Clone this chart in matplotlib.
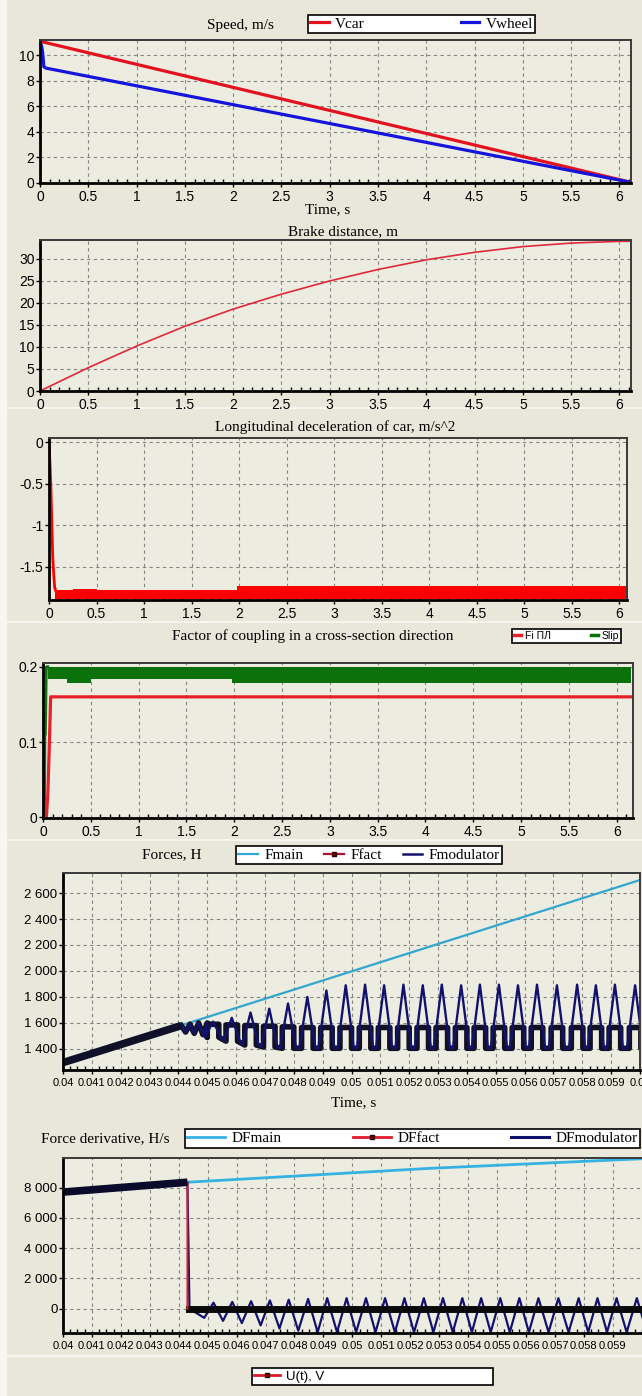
import matplotlib
matplotlib.use('Agg')
import matplotlib.pyplot as plt
from matplotlib.lines import Line2D
from matplotlib.patches import Rectangle
from matplotlib.ticker import FixedLocator, FuncFormatter

plt.rcParams['font.family'] = ['Liberation Sans', 'DejaVu Sans']

# ---- data ----
# speed, m/s
car_t = [0.0, 6.12]
car_v = [11.1, 0.05]
wheel_t = [0.0, 0.02, 0.03, 0.04, 0.06, 6.12]
wheel_v = [11.1, 10.6, 10.0, 9.1, 9.0, 0.05]

# brake distance, m
dist_t = [0, 0.5, 1, 1.5, 2, 2.5, 3, 3.5, 4, 4.5, 5, 5.5, 6, 6.12]
dist_v = [0, 5.3, 10.2, 14.7, 18.6, 22.0, 25.0, 27.6, 29.8, 31.5, 32.8, 33.6, 34.0, 34.0]

# longitudinal deceleration, m/s^2
dec_t = [0, 0.01, 0.02, 0.03, 0.04, 0.05, 0.06, 0.08]
dec_v = [0, -0.25, -0.55, -1.0, -1.4, -1.6, -1.75, -1.82]
band_t = [0.06, 0.25, 0.5, 1.98, 6.12]
band_hi = [-1.78, -1.765, -1.78, -1.73, -1.73]
band_lo = [-1.885, -1.885, -1.885, -1.885, -1.885]

# coupling factor
slip_t = [0.05, 0.25, 0.5, 1.98, 6.15]
slip_lo = [0.184, 0.178, 0.184, 0.178, 0.178]
slip_hi = [0.2, 0.2, 0.2, 0.2, 0.2]
slip_rise_t = [0.015, 0.02, 0.025, 0.035, 0.05]
slip_rise_v = [0.0, 0.11, 0.11, 0.2, 0.2]
fi_t = [0, 0.035, 0.05, 0.065, 0.08, 6.15]
fi_v = [0, 0.0, 0.03, 0.09, 0.16, 0.16]

# forces, H (time window 0.04 .. 0.06 s)
fmain_t = [0.04, 0.044, 0.06]
fmain_v = [1295, 1575, 2700]
ramp_t = [0.04, 0.0441]
ramp_v = [1295, 1580]
jag_t = [0.0441, 0.04425, 0.0444, 0.04455, 0.0447, 0.04485, 0.045]
jag_v = [1580, 1530, 1590, 1520, 1600, 1510, 1600]
peak_t = [0.04520, 0.04585, 0.04650, 0.04715, 0.04780, 0.04847, 0.04913, 0.04980,
          0.05047, 0.05113, 0.05180, 0.05247, 0.05313, 0.05380, 0.05445, 0.05511,
          0.05577, 0.05643, 0.05712, 0.05782, 0.05847, 0.05913, 0.05983, 0.06050]
mod_peak_v = [1610, 1640, 1680, 1710, 1750, 1800, 1850, 1890, 1895, 1890, 1895, 1890,
              1895, 1890, 1895, 1895, 1890, 1895, 1890, 1895, 1890, 1895, 1890, 1890]
mod_trough_v = [1490, 1460, 1430, 1415, 1405, 1405, 1405, 1405, 1405, 1405, 1405, 1405,
                1405, 1405, 1405, 1405, 1405, 1405, 1405, 1405, 1405, 1405, 1405, 1405]
fact_high_v = [1590, 1585, 1580, 1575, 1570, 1565, 1565, 1565, 1565, 1565, 1565, 1565,
               1565, 1565, 1565, 1565, 1565, 1565, 1565, 1565, 1565, 1565, 1565, 1565]

# force derivative, H/s
df_start_t = [0.04, 0.0443]
df_start_v = [7700, 8350]
dfmain_t = [0.0443, 0.0527, 0.06, 0.0607]
dfmain_v = [8350, 9270, 9900, 9960]
valley_t = [0.04488, 0.04553, 0.04618, 0.04683, 0.04748, 0.04813, 0.04880, 0.04947,
            0.05013, 0.05080, 0.05147, 0.05213, 0.05280, 0.05347, 0.05413, 0.05478,
            0.05544, 0.05610, 0.05678, 0.05747, 0.05815, 0.05880, 0.05948, 0.06018]
dfm_peak_v = [400, 450, 500, 550, 600, 650, 700, 700, 700, 700, 700, 700,
              700, 700, 700, 700, 700, 700, 700, 700, 700, 700, 700, 700]
dfm_valley_v = [-600, -800, -950, -1100, -1300, -1450, -1550, -1550, -1550, -1550, -1550, -1550,
                -1550, -1550, -1550, -1550, -1550, -1550, -1550, -1550, -1550, -1550, -1550, -1550]

# ---- layout helpers ----
W, H = 642, 1396
BG = '#E9E7DA'
PLOT_BG = '#EDECE1'
SERIF = 'Liberation Serif'

fig = plt.figure(figsize=(W / 100, H / 100), dpi=100, facecolor=BG)


def px_axes(l, t, r, b):
    return fig.add_axes([l / W, 1 - b / H, (r - l) / W, (b - t) / H])


def fy(y):
    return 1 - y / H


def style(ax, xlim, ylim, xt, yt, xminor, xfmt, yfmt, xsize=10, ysize=10):
    ax.set_facecolor(PLOT_BG)
    ax.set_xlim(*xlim)
    ax.set_ylim(*ylim)
    ax.xaxis.set_major_locator(FixedLocator(xt))
    ax.yaxis.set_major_locator(FixedLocator(yt))
    ax.xaxis.set_minor_locator(FixedLocator(xminor))
    ax.xaxis.set_major_formatter(FuncFormatter(xfmt))
    ax.yaxis.set_major_formatter(FuncFormatter(yfmt))
    ax.grid(True, which='major', color='#858585', lw=0.8, ls=(0, (3, 3)))
    ax.tick_params(axis='x', which='major', direction='out', length=3, width=1,
                   labelsize=xsize, pad=2)
    ax.tick_params(axis='x', which='minor', direction='in', length=3, width=1)
    ax.tick_params(axis='y', direction='out', length=3, width=1, labelsize=ysize, pad=1)
    for s in ['left', 'bottom']:
        ax.spines[s].set_linewidth(2.0)
        ax.spines[s].set_color('black')
    for s in ['top', 'right']:
        ax.spines[s].set_linewidth(1.4)
        ax.spines[s].set_color('#3a3a3a')
    ax.set_axisbelow(True)


def box_legend(handles, labels, x0, y0, x1, y1, ncol, prop, hl=1.5):
    leg = fig.legend(handles, labels, loc='center',
                     bbox_to_anchor=(x0 / W, fy(y1), (x1 - x0) / W, (y1 - y0) / H),
                     mode='expand', ncol=ncol, frameon=True, fancybox=False,
                     borderpad=0.15, borderaxespad=0, handlelength=hl,
                     handletextpad=0.4, columnspacing=0.5, prop=prop)
    fr = leg.get_frame()
    fr.set_facecolor('white')
    fr.set_edgecolor('black')
    fr.set_linewidth(1.2)
    fr.set_alpha(1)
    return leg


gfmt = lambda v, p: '%g' % round(v, 4)
sfmt = lambda v, p: '{:,.0f}'.format(v).replace(',', ' ')
mfmt = lambda v, p: ('%.3f' % v).rstrip('0')

secs = [i * 0.5 for i in range(13)]
secs_minor = [i * 0.1 for i in range(62)]
ms = [i / 1000 for i in range(40, 61)]
ms_minor = [0.04 + i * 0.00025 for i in range(84)]

# light separators of the window
fig.patches.append(Rectangle((0, 0), 6 / W, 1, transform=fig.transFigure,
                             color='#F7F6F0', zorder=0))
for yy in [408, 622, 840, 1356]:
    fig.add_artist(Line2D([0, 1], [fy(yy), fy(yy)], color='#F7F6F0', lw=1.5, zorder=0))

# ---- 1. speed ----
ax1 = px_axes(40, 40, 631, 183)
style(ax1, (0, 6.12), (0, 11.2), secs, [0, 2, 4, 6, 8, 10], secs_minor, gfmt, gfmt)
l_car, = ax1.plot(car_t, car_v, color='#E3121E', lw=2.3, label='Vcar')
l_wheel, = ax1.plot(wheel_t, wheel_v, color='#1414DC', lw=2.3, label='Vwheel')
fig.text(240 / W, fy(25), 'Speed, m/s', family=SERIF, fontsize=11, ha='center', va='center')
fig.text(328 / W, fy(210), 'Time, s', family=SERIF, fontsize=11, ha='center', va='center')
box_legend([l_car, l_wheel], ['Vcar', 'Vwheel'], 308, 13, 535, 35, 2,
           {'family': SERIF, 'size': 11}, hl=1.2)

# ---- 2. brake distance ----
ax2 = px_axes(40, 240, 631, 391)
style(ax2, (0, 6.12), (0, 34.3), secs, [0, 5, 10, 15, 20, 25, 30], secs_minor, gfmt, gfmt)
ax2.plot(dist_t, dist_v, color='#E0283A', lw=1.2)
fig.text(343 / W, fy(232), 'Brake distance, m', family=SERIF, fontsize=11, ha='center', va='center')

# ---- 3. longitudinal deceleration ----
ax3 = px_axes(49, 438, 627, 600)
style(ax3, (0, 6.08), (-1.9, 0.05), secs, [0, -0.5, -1, -1.5], secs_minor, gfmt, gfmt)
ax3.plot(dec_t, dec_v, color='#FF0000', lw=2.0)
ax3.fill_between(band_t, band_lo, band_hi, step='post', color='#FF0000', lw=0)
fig.text(335 / W, fy(427), 'Longitudinal deceleration of car, m/s^2', family=SERIF,
         fontsize=11, ha='center', va='center')

# ---- 4. coupling factor ----
ax4 = px_axes(43, 663, 633, 818)
style(ax4, (0, 6.17), (-0.001, 0.205), secs, [0, 0.1, 0.2], secs_minor, gfmt, gfmt)
ax4.fill_between(slip_t, slip_lo, slip_hi, step='post', color='#0B720B', lw=0)
ax4.plot(slip_rise_t, slip_rise_v, color='#0B720B', lw=2.0)
ax4.plot(fi_t, fi_v, color='#E8202A', lw=2.3)
fig.text(313 / W, fy(636), 'Factor of coupling in a cross-section direction', family=SERIF,
         fontsize=11, ha='center', va='center')
box_legend([Line2D([], [], color='#E8202A', lw=2.5), Line2D([], [], color='#0B720B', lw=2.5)],
           ['Fi ПЛ', 'Slip'], 512, 627, 621, 645, 2, {'size': 7.5}, hl=0.7)

# ---- 5. forces ----
mod_t, mod_v = list(jag_t), list(jag_v)
fact_t, fact_v = list(jag_t), list(jag_v)
for p, pv, tv, hv in zip(peak_t, mod_peak_v, mod_trough_v, fact_high_v):
    mod_t += [p - 0.00028, p, p + 0.00028]
    mod_v += [tv, pv, tv]
    fact_t += [p - 0.0002, p - 0.0002, p + 0.0002, p + 0.0002]
    fact_v += [tv, hv, hv, tv]

ax5 = px_axes(63, 873, 640, 1070)
style(ax5, (0.04, 0.06), (1238, 2754), ms, [1400, 1600, 1800, 2000, 2200, 2400, 2600],
      ms_minor, mfmt, sfmt, xsize=8, ysize=9.5)
ax5.tick_params(axis='x', which='major', pad=3)
ax5.plot(fmain_t, fmain_v, color='#31A6CF', lw=1.6)
ax5.plot(fact_t, fact_v, color='#111122', lw=4.0)
ax5.plot(mod_t, mod_v, color='#12126E', lw=1.7)
ax5.plot(ramp_t, ramp_v, color='#101028', lw=5.5, solid_capstyle='butt')
fig.text(172 / W, fy(855), 'Forces, H', family=SERIF, fontsize=11, ha='center', va='center')
fig.text(354 / W, fy(1103), 'Time, s', family=SERIF, fontsize=11, ha='center', va='center')
h_main = Line2D([], [], color='#31A6CF', lw=1.6)
h_fact = Line2D([], [], color='#B01030', lw=1.6, marker='s', ms=3.5, mfc='#700010', mec='#300000')
h_mod = Line2D([], [], color='#12126E', lw=1.8)
box_legend([h_main, h_fact, h_mod], ['Fmain', 'Ffact', 'Fmodulator'], 236, 843, 502, 867, 3,
           {'family': SERIF, 'size': 11}, hl=1.3)

# ---- 6. force derivative ----
drop_t = df_start_t[-1] + 0.00007
dfm_t = list(df_start_t) + [drop_t]
dfm_v = list(df_start_v) + [0]
for vt, vv, p, pv in zip(valley_t, dfm_valley_v, peak_t, dfm_peak_v):
    dfm_t += [vt, p]
    dfm_v += [vv, pv]

ax6 = px_axes(63, 1158, 662, 1333)
style(ax6, (0.04, 0.0607), (-1600, 9950), ms[:20], [0, 2000, 4000, 6000, 8000],
      ms_minor, mfmt, sfmt, xsize=8, ysize=9.5)
ax6.tick_params(axis='x', which='major', pad=3)
ax6.plot(dfmain_t, dfmain_v, color='#35B2E2', lw=2.0)
ax6.plot(dfm_t, dfm_v, color='#12126E', lw=1.6)
ax6.plot([drop_t, 0.0607], [0, 0], color='#0A0A0A', lw=5.0)
ax6.plot(df_start_t + [df_start_t[-1]], df_start_v + [0], color='#E01A2A', lw=1.4)
ax6.plot(df_start_t, df_start_v, color='#0A0A2A', lw=5.5, solid_capstyle='butt')
fig.text(105 / W, fy(1139), 'Force derivative, H/s', family=SERIF, fontsize=11,
         ha='center', va='center')
h_dmain = Line2D([], [], color='#35B2E2', lw=2)
h_dfact = Line2D([], [], color='#E01A2A', lw=2, marker='s', ms=3.5, mfc='#700010', mec='#300000')
h_dmod = Line2D([], [], color='#12126E', lw=2.2)
box_legend([h_dmain, h_dfact, h_dmod], ['DFmain', 'DFfact', 'DFmodulator'], 185, 1127, 640, 1150, 3,
           {'family': SERIF, 'size': 11}, hl=2.5)

# ---- bottom legend of the next (cut off) chart ----
h_u = Line2D([], [], color='#E01A2A', lw=2, marker='s', ms=3.5, mfc='#700010', mec='#300000')
box_legend([h_u], ['U(t), V'], 252, 1365, 493, 1388, 1, {'size': 9.5}, hl=2.0)

fig.savefig('out.png', dpi=100, facecolor=BG)
